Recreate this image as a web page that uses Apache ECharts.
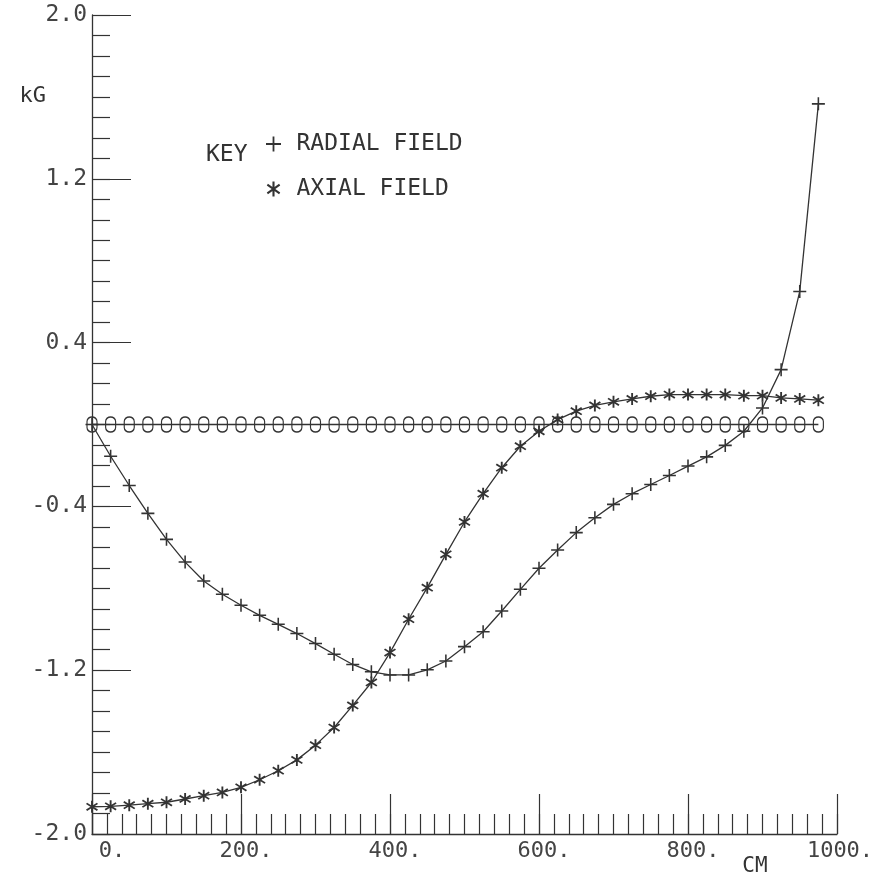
<!DOCTYPE html>
<html>
<head>
<meta charset="utf-8">
<script src="https://cdn.jsdelivr.net/npm/echarts@6/dist/echarts.min.js"></script>
<style>
  html, body { margin: 0; padding: 0; background: #ffffff; }
  #chart { width: 889px; height: 877px; }
</style>
</head>
<body>
<div id="chart"></div>
<script>
// ---- data ----
const positionsCm = [0, 25, 50, 75, 100, 125, 150, 175, 200, 225, 250, 275, 300, 325, 350, 375, 400, 425, 450, 475,
  500, 525, 550, 575, 600, 625, 650, 675, 700, 725, 750, 775, 800, 825, 850, 875, 900, 925, 950, 975];
const radialField = [0, -0.155, -0.298, -0.434, -0.561, -0.672, -0.764, -0.829, -0.883, -0.932,
  -0.976, -1.021, -1.070, -1.122, -1.172, -1.208, -1.223, -1.223, -1.198, -1.155,
  -1.085, -1.012, -0.911, -0.805, -0.702, -0.613, -0.528, -0.455, -0.390, -0.338,
  -0.293, -0.249, -0.203, -0.158, -0.102, -0.033, 0.081, 0.268, 0.650, 1.566];
const axialField = [-1.867, -1.865, -1.859, -1.852, -1.845, -1.829, -1.813, -1.797, -1.772, -1.735,
  -1.691, -1.638, -1.566, -1.480, -1.372, -1.260, -1.114, -0.951, -0.797, -0.634,
  -0.476, -0.338, -0.211, -0.106, -0.033, 0.024, 0.065, 0.093, 0.111, 0.125,
  0.138, 0.146, 0.146, 0.146, 0.146, 0.141, 0.141, 0.130, 0.125, 0.119];
const zeroField = [0, 0, 0, 0, 0, 0, 0, 0, 0, 0, 0, 0, 0, 0, 0, 0, 0, 0, 0, 0,
  0, 0, 0, 0, 0, 0, 0, 0, 0, 0, 0, 0, 0, 0, 0, 0, 0, 0, 0, 0];
const yMajorTicks = [-2.0, -1.2, -0.4, 0.4, 1.2, 2.0];
const xMajorTicks = [0, 200, 400, 600, 800, 1000];
const seriesNames = ['RADIAL FIELD', 'AXIAL FIELD'];
const keyLabel = 'KEY';
const yAxisName = 'kG';
const xAxisName = 'CM';

// ---- symbols ----
const INK = '#333333';
const MONO = '"DejaVu Sans Mono", monospace';
const plusPath = 'path://M44,0 L56,0 L56,44 L100,44 L100,56 L56,56 L56,100 L44,100 L44,56 L0,56 L0,44 L44,44 Z';
function bar(angleDeg) {
  const a = angleDeg * Math.PI / 180, dx = Math.cos(a), dy = Math.sin(a), L = 50, T = 7, c = 50;
  const pts = [[c + L * dx - T * dy, c + L * dy + T * dx], [c + L * dx + T * dy, c + L * dy - T * dx],
               [c - L * dx + T * dy, c - L * dy - T * dx], [c - L * dx - T * dy, c - L * dy + T * dx]];
  return 'M' + pts.map(p => p[0].toFixed(2) + ',' + p[1].toFixed(2)).join(' L') + ' Z';
}
const starPath = 'path://' + [90, 35, 145].map(bar).join(' ');
const ovalPath = 'path://M0,30 A30,30 0 0 1 60,30 L60,70 A30,30 0 0 1 0,70 Z';

const pairs = (vals) => positionsCm.map((x, i) => [x, vals[i]]);

const chart = echarts.init(document.getElementById('chart'), null, { renderer: 'canvas' });
const tickStyle = { color: INK, width: 1.2 };

chart.setOption({
  animation: false,
  backgroundColor: '#ffffff',
  grid: { left: 92, right: 52, top: 15, bottom: 42, containLabel: false },
  xAxis: [
    {
      type: 'value', min: 0, max: 1000, interval: 20, position: 'bottom',
      axisLine: { show: true, onZero: false, lineStyle: { color: INK, width: 1.3 } },
      axisTick: { show: true, inside: true, length: 20, lineStyle: tickStyle },
      axisLabel: { show: false },
      splitLine: { show: false },
      name: xAxisName, nameLocation: 'end', nameGap: -82, nameMoveOverlap: false,
      nameTextStyle: { fontFamily: MONO, fontSize: 21, color: INK, align: 'center', verticalAlign: 'top', padding: [22, 0, 0, 0] }
    },
    {
      type: 'value', min: 0, max: 1000, interval: 200, position: 'bottom', offset: 0,
      axisLine: { show: false, onZero: false },
      axisTick: { show: true, inside: true, length: 40, lineStyle: tickStyle, customValues: xMajorTicks },
      axisLabel: {
        show: true, margin: 6, fontFamily: MONO, fontSize: 22, color: '#444444',
        customValues: xMajorTicks,
        formatter: v => v === 0 ? '{z|0.}' : (v === 1000 ? '{b|1000.}' : '{a|' + v + '.}'),
        rich: { z: { padding: [0, 0, 0, 40] }, a: { padding: [0, 0, 0, 10] }, b: { padding: [0, 0, 0, 6] } }
      },
      splitLine: { show: false }
    }
  ],
  yAxis: [
    {
      type: 'value', min: -2, max: 2, interval: 0.1, position: 'left',
      axisLine: { show: true, onZero: false, lineStyle: { color: INK, width: 1.3 } },
      axisTick: { show: true, inside: true, length: 18, lineStyle: tickStyle },
      axisLabel: { show: false },
      splitLine: { show: false },
      name: yAxisName, nameLocation: 'end', nameGap: -81, nameMoveOverlap: false,
      nameTextStyle: { fontFamily: MONO, fontSize: 22, color: INK, align: 'right', verticalAlign: 'middle', padding: [0, 46, 0, 0] }
    },
    {
      type: 'value', min: -2, max: 2, interval: 0.4, position: 'left', offset: 0,
      axisLine: { show: false, onZero: false },
      axisTick: { show: true, inside: true, length: 39, lineStyle: tickStyle, customValues: yMajorTicks },
      axisLabel: {
        show: true, margin: 5, fontFamily: MONO, fontSize: 23, color: '#444444',
        customValues: yMajorTicks,
        formatter: v => v.toFixed(1)
      },
      splitLine: { show: false }
    }
  ],
  legend: {
    orient: 'vertical', left: 266, top: 132, padding: 0,
    itemWidth: 36, itemHeight: 15, itemGap: 21, selectedMode: false,
    textStyle: { fontFamily: MONO, fontSize: 23, color: INK, lineHeight: 24 },
    data: [{ name: seriesNames[0], icon: plusPath }, { name: seriesNames[1], icon: starPath }]
  },
  graphic: [
    { type: 'text', x: 206, y: 155, style: { text: keyLabel, font: '23px "DejaVu Sans Mono", monospace', fill: INK, verticalAlign: 'middle' } }
  ],
  series: [
    {
      name: 'ZERO', type: 'line', xAxisIndex: 0, yAxisIndex: 0, data: pairs(zeroField),
      symbol: ovalPath, symbolSize: [10, 15],
      itemStyle: { color: 'rgba(0,0,0,0)', borderColor: INK, borderWidth: 1.4 },
      lineStyle: { color: INK, width: 1.3 }
    },
    {
      name: seriesNames[0], type: 'line', xAxisIndex: 0, yAxisIndex: 0, data: pairs(radialField),
      symbol: plusPath, symbolSize: 13,
      itemStyle: { color: INK },
      lineStyle: { color: INK, width: 1.3 }
    },
    {
      name: seriesNames[1], type: 'line', xAxisIndex: 0, yAxisIndex: 0, data: pairs(axialField),
      symbol: starPath, symbolSize: 12,
      itemStyle: { color: INK },
      lineStyle: { color: INK, width: 1.3 }
    }
  ]
});
</script>
</body>
</html>
